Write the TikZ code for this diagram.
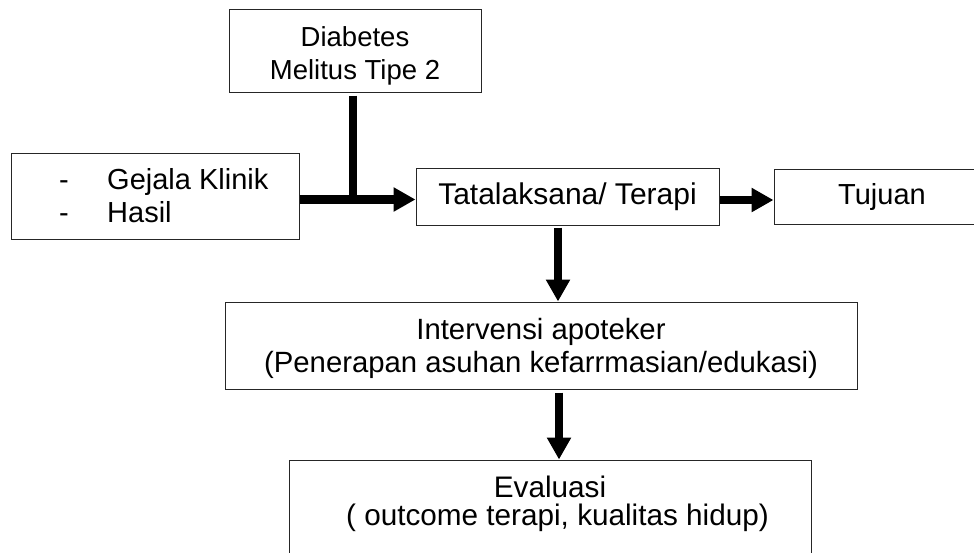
\documentclass[tikz,border=0pt]{standalone}
\usepackage{fontspec}
\setmainfont{Liberation Sans}
\usetikzlibrary{arrows.meta}
\tikzset{
    box/.style={draw=black!85, line width=1pt, inner sep=0pt, align=center, font=\fontsize{29}{33}\selectfont},
    conn/.style={line width=8.5pt},
    arr/.style={conn, -{Triangle[width=23pt,length=22pt]}},
}
\begin{document}
\begin{tikzpicture}[x=1pt,y=-1pt]
    \useasboundingbox (0,0) rectangle (974,552);
    \node[box, minimum width=252pt, minimum height=83pt, font=\fontsize{27.5}{33}\selectfont] (dm) at (355,50.5) {\rule{0pt}{31pt}Diabetes\\Melitus Tipe 2};
    \node[box, minimum width=288pt, minimum height=86pt] (gejala) at (155,196) {};
    \node[anchor=west, align=left, inner sep=0pt, font=\fontsize{29}{33}\selectfont] (gejalatext) at (59,196) {\makebox[48pt][l]{-}Gejala Klinik\\\makebox[48pt][l]{-}Hasil};
    \node[box, minimum width=303pt, minimum height=57pt, font=\fontsize{30}{33}\selectfont] (tata) at (567.5,196.5) {Tatalaksana/ Terapi};
    \node[box, minimum width=216pt, minimum height=55pt] (tujuan) at (882,196.5) {Tujuan};
    \node[box, minimum width=632pt, minimum height=87pt, font=\fontsize{29.3}{33}\selectfont] (interv) at (541,345.5) {\rule{0pt}{27pt}Intervensi apoteker\\(Penerapan asuhan kefarrmasian/edukasi)};
    \node[box, minimum width=522pt, minimum height=100pt, font=\fontsize{29.7}{33}\selectfont] (eval) at (550,510) {Evaluasi\\[-5pt]\hspace*{15pt}( outcome terapi, kualitas hidup)\rule[-19pt]{0pt}{19pt}};
    % connectors
    \coordinate (join) at (353,199.5);
    \draw[conn] ([xshift=-2pt,yshift=-3pt]dm.south) -- ([yshift=-4.25pt]join);
    \draw[arr] (gejala.east |- join) -- (tata.west |- join);
    \draw[arr] ([yshift=-3.5pt]tata.east) -- ([yshift=-3.5pt]tata.east -| tujuan.west);
    \draw[arr] ([xshift=-9.5pt,yshift=-2pt]tata.south) -- ([xshift=-9.5pt]tata.south |- interv.north);
    \draw[arr] ([xshift=18pt,yshift=-3pt]interv.south) -- ([xshift=18pt]interv.south |- eval.north);
\end{tikzpicture}
\end{document}
